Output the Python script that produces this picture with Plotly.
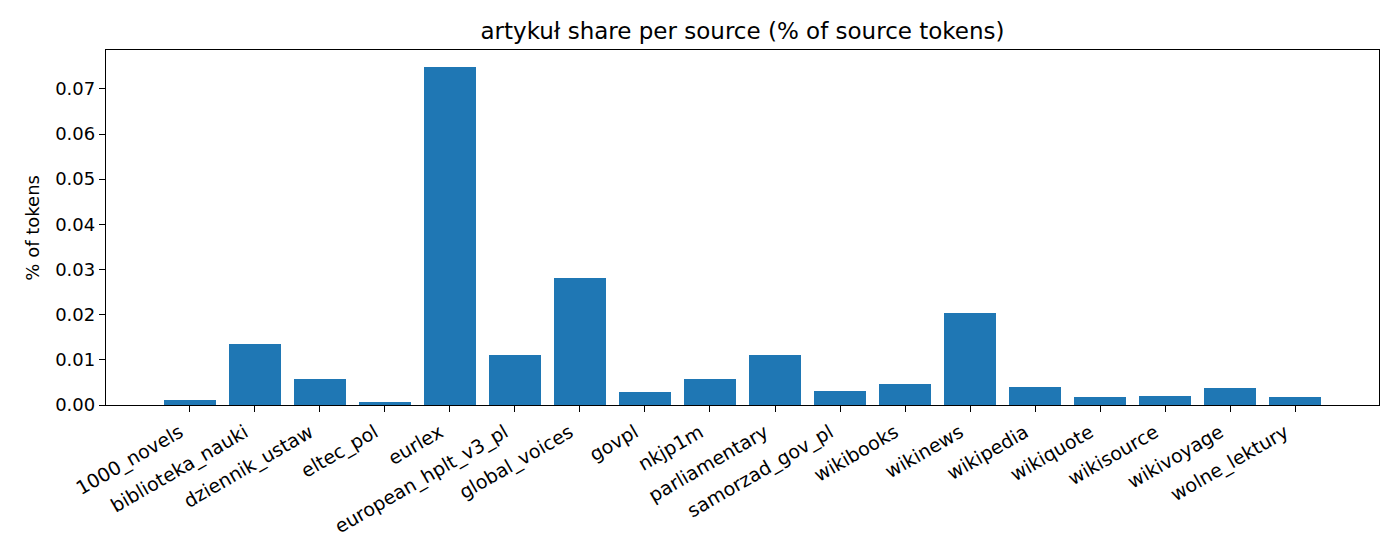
import plotly.graph_objects as go

# sources and share of "artykuł" tokens (%)
sources = [
    "1000_novels", "biblioteka_nauki", "dziennik_ustaw", "eltec_pol", "eurlex",
    "european_hplt_v3_pl", "global_voices", "govpl", "nkjp1m", "parliamentary",
    "samorzad_gov_pl", "wikibooks", "wikinews", "wikipedia", "wikiquote",
    "wikisource", "wikivoyage", "wolne_lektury",
]
share_pct = [
    0.0010, 0.0135, 0.0057, 0.0006, 0.0748,
    0.0110, 0.0282, 0.0028, 0.0057, 0.0110,
    0.0030, 0.0046, 0.0204, 0.0039, 0.0017,
    0.0019, 0.0037, 0.0017,
]
y_ticks = [0.00, 0.01, 0.02, 0.03, 0.04, 0.05, 0.06, 0.07]

font = "DejaVu Sans"

fig = go.Figure()
fig.add_trace(go.Bar(
    x=sources,
    y=share_pct,
    width=0.8,
    marker=dict(color="#1f77b4", line=dict(width=0)),
))

# page has an 8px body margin, so margins are shifted to compensate
fig.update_layout(
    width=1400,
    height=560,
    paper_bgcolor="white",
    plot_bgcolor="white",
    font=dict(family=font, size=18, color="black"),
    title=dict(
        text="artykuł share per source (% of source tokens)",
        x=0.5, xref="paper", xanchor="center",
        y=0.959, yref="container", yanchor="middle",
        font=dict(size=23, family=font, color="black"),
    ),
    margin=dict(l=98, r=29, t=42, b=163),
    showlegend=False,
    bargap=0,
    xaxis=dict(
        type="category",
        range=[-1.29, 18.29],
        showline=True, linecolor="black", linewidth=1.3, mirror=True,
        ticks="outside", ticklen=6, tickwidth=1.3, tickcolor="black",
        tickangle=-30,
        ticklabelshift=-10,
        ticklabelstandoff=2,
        showgrid=False, zeroline=False,
        tickfont=dict(size=19, family=font, color="black"),
    ),
    yaxis=dict(
        range=[0, 0.0786],
        tickvals=y_ticks,
        tickformat=".2f",
        showline=True, linecolor="black", linewidth=1.3, mirror=True,
        ticks="outside", ticklen=6, tickwidth=1.3, tickcolor="black",
        showgrid=False, zeroline=False,
        tickfont=dict(size=18, family=font, color="black"),
    ),
    annotations=[
        dict(
            text="% of tokens",
            x=-0.058, y=0.5, xref="paper", yref="paper",
            textangle=-90, showarrow=False,
            xanchor="center", yanchor="middle",
            font=dict(size=18, family=font, color="black"),
        )
    ],
)

fig.write_html("out.html")
